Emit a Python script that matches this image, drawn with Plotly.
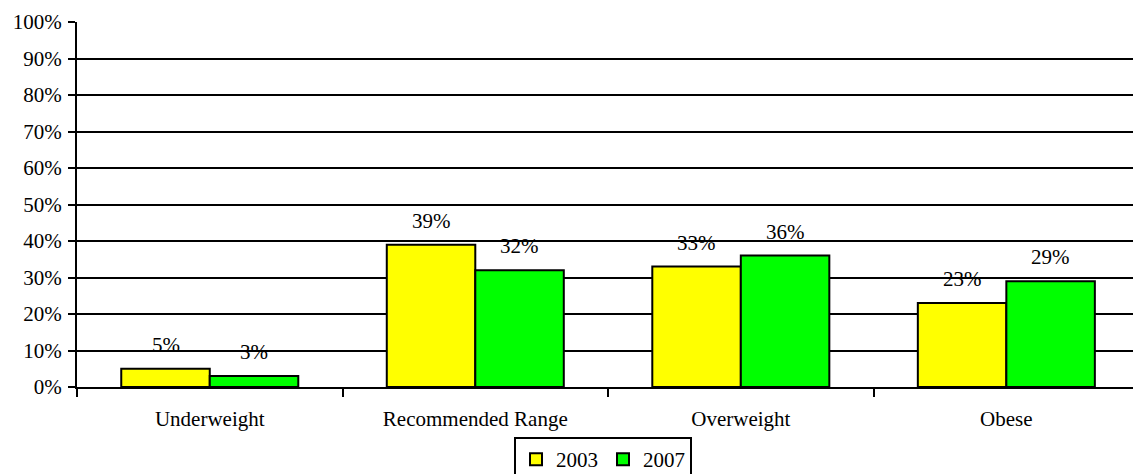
import plotly.graph_objects as go

# BMI categories and share of population in each survey year
categories = ["Underweight", "Recommended Range", "Overweight", "Obese"]
years = ["2003", "2007"]
values_2003 = [0.05, 0.39, 0.33, 0.23]
values_2007 = [0.03, 0.32, 0.36, 0.29]
colors = {"2003": "#FFFF00", "2007": "#00FF00"}

FONT = "Liberation Serif"

fig = go.Figure()
for year, vals in zip(years, [values_2003, values_2007]):
    fig.add_trace(go.Bar(
        x=categories, y=vals, name=year,
        marker=dict(color=colors[year], line=dict(color="black", width=2)),
    ))

# value labels above each bar
group_w_px = (1133 - 77) / 3.977 * (1 - 0.3333)
bar_w_px = group_w_px / 2
for i, (year, vals) in enumerate(zip(years, [values_2003, values_2007])):
    shift = (i - 0.5) * bar_w_px
    for cat, v in zip(categories, vals):
        fig.add_annotation(
            x=cat, y=v, xref="x", yref="y", text=f"{round(v * 100)}%",
            showarrow=False, xshift=shift, yshift=24, yanchor="middle",
            font=dict(family=FONT, size=21, color="black"),
        )

fig.update_layout(
    width=1133, height=474,
    margin=dict(l=77, r=0, t=22, b=87, autoexpand=False),
    paper_bgcolor="white", plot_bgcolor="white",
    barmode="group", bargap=0.3333, bargroupgap=0,
    font=dict(family=FONT, size=21, color="black"),
    showlegend=True,
    legend=dict(
        orientation="h", xref="container", yref="container",
        x=603 / 1133, xanchor="center", y=1 - 437 / 474, yanchor="top",
        bordercolor="black", borderwidth=2, bgcolor="white",
        font=dict(family=FONT, size=21, color="black"),
        itemwidth=30, tracegroupgap=0,
    ),
)
fig.update_xaxes(
    type="category", range=[-0.5, 3.477],
    showline=True, linecolor="black", linewidth=2,
    ticks="outside", tickson="boundaries", ticklen=8, tickwidth=2, tickcolor="black",
    showgrid=False, ticklabelstandoff=12,
    tickfont=dict(family=FONT, size=21, color="black"),
)
fig.update_yaxes(
    range=[0, 1], dtick=0.1, tick0=0, tickformat=".0%",
    showline=True, linecolor="black", linewidth=2,
    ticks="outside", ticklen=7, tickwidth=2, tickcolor="black",
    showgrid=True, gridcolor="black", gridwidth=2, zeroline=False,
    ticklabelstandoff=2,
    tickfont=dict(family=FONT, size=21, color="black"),
)

fig.write_html("out.html")
